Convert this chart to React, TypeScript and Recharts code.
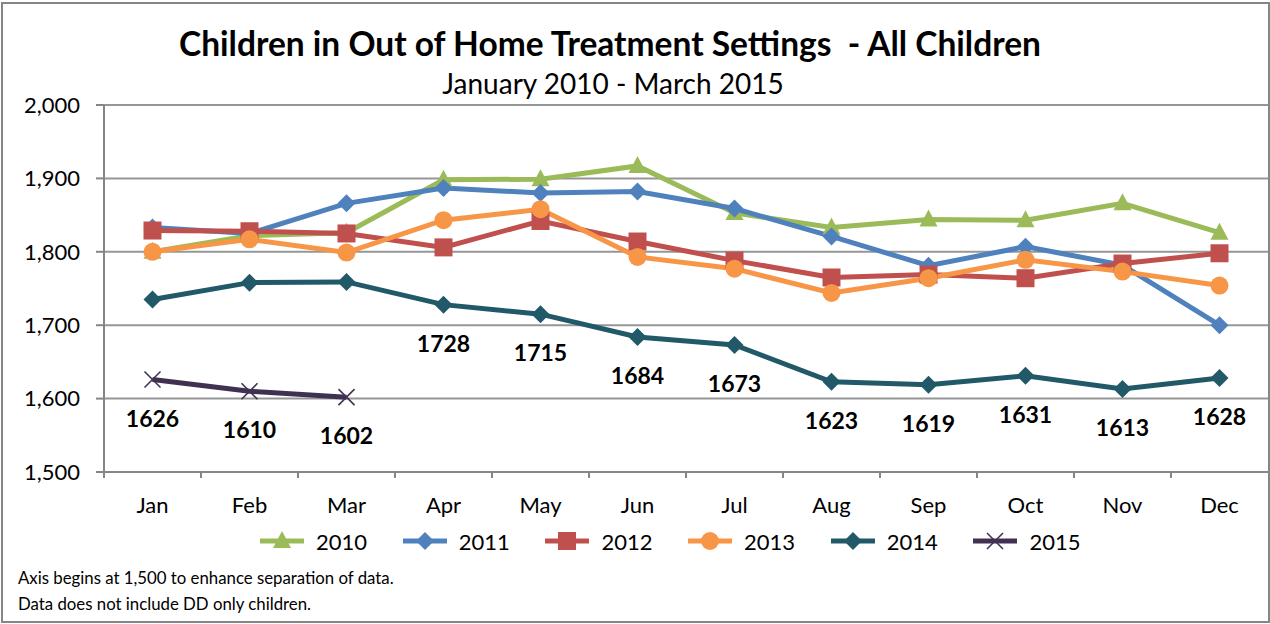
import React from 'react';
import { LineChart, Line, XAxis, YAxis, CartesianGrid, LabelList } from 'recharts';

if (typeof document !== 'undefined') document.body.style.margin = '0';

const months = ['Jan', 'Feb', 'Mar', 'Apr', 'May', 'Jun', 'Jul', 'Aug', 'Sep', 'Oct', 'Nov', 'Dec'];
const y2010 = [1800, 1822, 1826, 1898, 1899, 1917, 1853, 1833, 1844, 1843, 1866, 1826];
const y2011 = [1833, 1825, 1866, 1887, 1880, 1882, 1859, 1821, 1781, 1807, 1782, 1700];
const y2012 = [1829, 1828, 1825, 1806, 1842, 1814, 1788, 1765, 1769, 1764, 1784, 1798];
const y2013 = [1800, 1817, 1799, 1843, 1858, 1793, 1777, 1744, 1764, 1789, 1773, 1754];
const y2014 = [1735, 1758, 1759, 1728, 1715, 1684, 1673, 1623, 1619, 1631, 1613, 1628];
const y2015 = [1626, 1610, 1602, null, null, null, null, null, null, null, null, null];
const yTicks = [1500, 1600, 1700, 1800, 1900, 2000];
// 2014 only gets data labels from April on
const labelStart2014 = 3;

const series = [
  { key: 'y2010', name: '2010', color: '#9bbb59', marker: 'triangle' },
  { key: 'y2011', name: '2011', color: '#4f81bd', marker: 'diamond' },
  { key: 'y2012', name: '2012', color: '#c0504d', marker: 'square' },
  { key: 'y2013', name: '2013', color: '#f79646', marker: 'circle' },
  { key: 'y2014', name: '2014', color: '#215968', marker: 'diamond' },
  { key: 'y2015', name: '2015', color: '#403152', marker: 'x' },
];

const data = months.map((m, i) => ({
  month: m,
  y2010: y2010[i],
  y2011: y2011[i],
  y2012: y2012[i],
  y2013: y2013[i],
  y2014: y2014[i],
  y2015: y2015[i],
}));

const FONT = 'Lato, "Open Sans", sans-serif';

const Marker = ({ type, cx, cy, color }: { type: string; cx: number; cy: number; color: string }) => {
  if (cx == null || cy == null) return null;
  switch (type) {
    case 'triangle':
      return <polygon points={`${cx},${cy - 10} ${cx + 9},${cy + 7} ${cx - 9},${cy + 7}`} fill={color} />;
    case 'diamond':
      return <polygon points={`${cx},${cy - 9} ${cx + 9},${cy} ${cx},${cy + 9} ${cx - 9},${cy}`} fill={color} />;
    case 'square':
      return <rect x={cx - 9} y={cy - 9} width={18} height={18} fill={color} />;
    case 'circle':
      return <circle cx={cx} cy={cy} r={9} fill={color} />;
    case 'x':
      return (
        <g stroke={color} strokeWidth={1.6}>
          <line x1={cx - 8} y1={cy - 8} x2={cx + 8} y2={cy + 8} />
          <line x1={cx - 8} y1={cy + 8} x2={cx + 8} y2={cy - 8} />
        </g>
      );
    default:
      return null;
  }
};

const XTick = (props: any) => {
  const { x, y, payload } = props;
  const half = payload && payload.offset ? payload.offset : 48.5;
  return (
    <g>
      <line x1={x - half} y1={y} x2={x - half} y2={y + 6} stroke="#868686" strokeWidth={2} />
      <text x={x} y={y + 32} textAnchor="middle" dominantBaseline="central" fontSize={22} fontFamily={FONT} fill="#000">
        {payload.value}
      </text>
    </g>
  );
};

const makeLabel = (startIndex: number) => (props: any) => {
  const { x, y, value, index } = props;
  if (value == null || index < startIndex) return null;
  return (
    <text x={x} y={y + 38} textAnchor="middle" dominantBaseline="central" fontSize={23} fontWeight="bold" fontFamily={FONT} fill="#000">
      {value}
    </text>
  );
};

export default function App() {
  return (
    <div style={{ position: 'relative', width: 1270, height: 624, background: '#fff', fontFamily: FONT }}>
      <div style={{ position: 'absolute', left: 1, top: 2, width: 1265, height: 617, border: '2px solid #868686' }} />
      <div style={{ position: 'absolute', left: 0, width: 1220, top: 21, textAlign: 'center', fontSize: 33.5, fontWeight: 'bold', whiteSpace: 'pre', lineHeight: '44px' }}>
        {'Children in Out of Home Treatment Settings  - All Children'}
      </div>
      <div style={{ position: 'absolute', left: 0, width: 1226, top: 66, textAlign: 'center', fontSize: 28, lineHeight: '34px' }}>
        January 2010 - March 2015
      </div>
      <div style={{ position: 'absolute', left: 0, top: 0 }}>
        <LineChart width={1270} height={624} data={data} margin={{ top: 105, right: 2, bottom: 102, left: 10 }}>
          <CartesianGrid vertical={false} stroke="#969696" strokeWidth={2} />
          <XAxis dataKey="month" scale="band" height={50} tickSize={0} tickMargin={0} tick={<XTick />} axisLine={{ stroke: '#868686', strokeWidth: 2 }} tickLine={false} />
          <YAxis
            width={94}
            domain={[1500, 2000]}
            ticks={yTicks}
            interval={0}
            tickSize={8}
            tickMargin={16}
            tickFormatter={(v: number) => v.toLocaleString('en-US')}
            tick={{ fontSize: 22, fontFamily: FONT, fill: '#000' }}
            axisLine={{ stroke: '#868686', strokeWidth: 2 }}
            tickLine={{ stroke: '#868686', strokeWidth: 2 }}
          />
          {series.map((s) => (
            <Line
              key={s.key}
              dataKey={s.key}
              name={s.name}
              stroke={s.color}
              strokeWidth={5}
              isAnimationActive={false}
              dot={(p: any) => <Marker key={`${s.key}-${p.index}`} type={s.marker} cx={p.cx} cy={p.cy} color={s.color} />}
              activeDot={false}
            >
              {s.key === 'y2014' && <LabelList dataKey={s.key} content={makeLabel(labelStart2014)} />}
              {s.key === 'y2015' && <LabelList dataKey={s.key} content={makeLabel(0)} />}
            </Line>
          ))}
        </LineChart>
      </div>
      <div style={{ position: 'absolute', left: 258, top: 526, display: 'flex' }}>
        {series.map((s) => (
          <div key={s.key} style={{ width: 142.7, display: 'flex', alignItems: 'center', height: 30 }}>
            <svg width={48} height={24}>
              <line x1={2} y1={12} x2={46} y2={12} stroke={s.color} strokeWidth={5} />
              <Marker type={s.marker} cx={24} cy={12} color={s.color} />
            </svg>
            <span style={{ fontSize: 22, marginLeft: 10 }}>{s.name}</span>
          </div>
        ))}
      </div>
      <div style={{ position: 'absolute', left: 18, top: 568, fontSize: 16.8, lineHeight: '20px' }}>
        Axis begins at 1,500 to enhance separation of data.
      </div>
      <div style={{ position: 'absolute', left: 18, top: 594, fontSize: 16.8, lineHeight: '20px' }}>
        Data does not include DD only children.
      </div>
    </div>
  );
}
